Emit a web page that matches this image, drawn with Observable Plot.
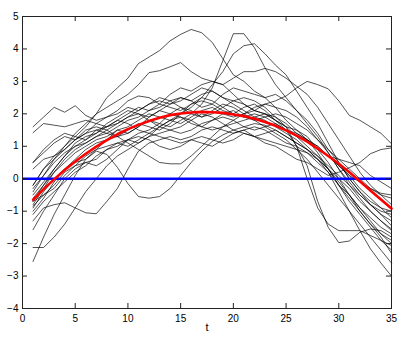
<!DOCTYPE html>
<html>
<head>
<meta charset="utf-8">
<script src="https://cdn.jsdelivr.net/npm/d3@7"></script>
<script src="https://cdn.jsdelivr.net/npm/@observablehq/plot@0.6"></script>
<style>
  html, body { margin: 0; padding: 0; background: #fff; }
</style>
</head>
<body>
<div id="chart"></div>
<script>
// time points
const T = [1,2,3,4,5,6,7,8,9,10,11,12,13,14,15,16,17,18,19,20,21,22,23,24,25,26,27,28,29,30,31,32,33,34,35];

// individual curves (black)
const s01 = [-0.2,0.3,0.7,1.0,1.3,1.6,2.0,2.5,2.8,3.1,3.55,3.75,3.95,4.25,4.45,4.6,4.5,4.2,3.7,3.2,3.0,2.7,2.5,2.2,1.8,1.5,1.2,0.8,0.3,-0.2,-0.5,-0.9,-1.3,-1.7,-2.0];
const s02 = [-0.8,-0.3,0.2,0.5,0.8,1.0,1.2,1.3,1.5,1.4,1.6,1.8,1.7,1.6,1.8,2.0,2.3,2.8,3.64,4.47,4.47,4.04,3.42,2.9,2.5,2.1,1.7,1.3,0.8,0.3,-0.2,-0.6,-1.0,-1.3,-1.55];
const s03 = [-1.0,-0.6,-0.1,0.3,0.6,0.9,1.1,1.2,1.3,1.5,1.7,1.6,1.5,1.7,2.0,2.2,2.5,2.9,3.3,3.85,4.1,4.16,3.85,3.5,3.2,2.7,2.2,1.7,1.1,0.5,0.0,-0.4,-0.8,-1.1,-1.45];
const s04 = [0.5,0.8,1.1,1.3,1.2,1.4,1.7,1.9,2.0,2.2,2.1,2.3,2.5,2.4,2.2,2.0,1.9,2.1,2.3,2.2,2.0,2.1,2.3,2.4,2.55,2.8,3.0,2.9,2.77,2.4,1.95,1.8,1.6,1.4,1.08];
const s05 = [-0.4,0.1,0.6,1.0,1.4,1.7,2.0,2.2,2.4,2.6,2.9,3.27,3.33,3.45,3.58,3.3,3.1,3.0,2.9,2.6,2.3,2.1,2.0,1.8,1.6,1.3,1.0,0.7,0.3,-0.2,-0.7,-1.1,-1.5,-1.9,-2.2];
const s06 = [-0.5,-0.1,0.3,0.7,1.0,1.2,1.5,1.6,1.8,2.0,2.2,2.1,2.3,2.6,2.8,2.7,2.9,3.0,2.9,3.1,3.3,3.3,3.4,3.3,3.1,2.85,2.6,2.2,1.7,1.2,0.7,0.2,-0.2,-0.5,-0.6];
const s07 = [1.6,1.9,2.2,2.05,2.25,1.95,1.8,1.9,2.1,2.4,2.55,2.5,2.3,2.2,2.1,2.3,2.5,2.4,2.2,2.0,1.9,2.0,1.9,1.7,1.5,1.4,1.2,1.0,0.7,0.4,0.1,-0.3,-0.6,-0.9,-1.2];
const s08 = [1.42,1.7,1.65,1.6,1.7,1.8,1.7,1.6,1.7,1.9,2.0,1.8,1.6,1.5,1.6,1.8,2.0,1.9,1.7,1.5,1.4,1.3,1.4,1.5,1.3,1.1,0.9,0.6,0.3,-0.1,-0.5,-0.9,-1.2,-1.5,-1.7];
const s09 = [-0.9,-0.4,0.0,0.3,0.5,0.6,0.85,0.75,0.35,-0.15,-0.55,-0.6,-0.55,-0.3,0.1,0.5,0.85,1.15,1.35,1.5,1.6,1.7,1.65,1.5,1.3,1.1,0.9,0.7,0.4,0.1,-0.2,-0.5,-0.8,-1.1,-1.3];
const s10 = [-1.3,-0.9,-0.8,-0.74,-0.9,-1.05,-1.08,-0.7,-0.3,0.3,0.85,1.1,1.2,1.3,1.2,1.3,1.5,1.6,1.5,1.4,1.5,1.6,1.5,1.3,1.1,1.0,0.8,0.6,0.3,0.0,-0.3,-0.7,-1.0,-1.3,-1.6];
const s11 = [-2.55,-1.8,-1.1,-0.5,0.1,0.6,0.9,1.2,1.5,1.6,1.8,2.0,1.9,1.8,2.0,2.3,2.4,2.3,2.1,2.0,2.2,2.3,2.1,1.8,1.6,1.5,1.3,0.9,0.5,0.0,-0.5,-1.0,-1.4,-1.7,-1.9];
const s12 = [-2.12,-2.12,-1.8,-1.4,-0.9,-0.4,0.0,0.4,0.7,0.9,1.1,1.3,1.4,1.5,1.4,1.5,1.7,1.8,1.9,1.8,1.6,1.5,1.6,1.7,1.5,1.3,1.2,1.0,0.7,0.4,0.1,-0.1,-0.3,-0.45,-0.5];
const s13 = [-1.57,-1.0,-0.5,0.0,0.3,0.5,0.6,0.9,1.1,1.2,1.4,1.5,1.7,2.0,2.2,2.1,1.9,2.0,2.2,2.4,2.5,2.4,2.2,1.9,1.6,1.0,0.0,-0.9,-1.4,-1.6,-1.6,-1.6,-1.75,-1.9,-2.06];
const s14 = [-0.6,-0.2,0.2,0.6,0.9,1.1,1.3,1.4,1.6,1.8,1.9,2.1,2.2,2.4,2.5,2.4,2.6,2.7,2.5,2.4,2.3,2.1,2.0,1.8,1.5,1.0,0.4,-0.7,-1.5,-1.97,-1.92,-1.65,-1.55,-1.6,-1.8];
const s15 = [-0.3,0.1,0.5,0.8,1.0,1.1,1.3,1.5,1.7,1.9,2.1,2.3,2.4,2.3,2.4,2.6,2.8,2.7,2.5,2.3,2.1,1.9,1.8,1.6,1.4,1.2,0.9,0.6,0.2,-0.4,-1.0,-1.6,-2.16,-2.6,-3.0];
const s16 = [-0.7,-0.5,-0.2,0.2,0.4,0.7,0.9,1.0,1.1,1.0,1.2,1.4,1.3,1.2,1.1,1.2,1.3,1.2,1.1,1.2,1.4,1.3,1.1,1.0,0.8,0.6,0.5,0.3,0.1,0.2,0.34,0.5,0.77,0.9,0.95];
const s17 = [0.3,0.6,0.7,0.9,1.2,1.5,1.6,1.5,1.3,1.4,1.6,1.9,2.1,2.0,1.9,1.7,1.6,1.8,2.0,2.1,1.9,1.8,1.9,2.0,1.9,1.7,1.5,1.2,0.9,0.6,0.3,0.0,-0.3,-0.5,-0.8];
const s18 = [-0.85,-0.5,-0.3,0.1,0.4,0.5,0.4,0.6,0.9,1.2,1.3,1.2,1.0,0.9,1.0,1.2,1.1,1.0,1.2,1.4,1.5,1.3,1.2,1.1,1.0,0.9,0.8,0.5,0.2,-0.2,-0.6,-1.0,-1.4,-1.8,-2.3];
const s19 = [-0.2,0.3,0.6,0.9,1.2,1.4,1.5,1.4,1.3,1.1,0.9,0.7,0.5,0.46,0.46,0.7,1.0,1.3,1.6,1.8,2.0,2.2,2.3,2.2,2.1,1.9,1.6,1.2,0.8,0.3,-0.1,-0.5,-0.8,-1.0,-1.1];
const s20 = [-0.7,-0.2,0.3,0.7,1.1,1.3,1.4,1.7,1.9,2.1,2.0,1.9,2.1,2.3,2.5,2.4,2.2,2.3,2.6,2.8,2.7,2.6,2.5,2.6,2.4,2.1,1.8,1.4,0.9,0.5,0.0,-0.4,-0.7,-0.9,-1.0];
const s21 = [-1.1,-0.7,-0.4,-0.1,0.2,0.4,0.7,0.9,1.0,1.2,1.1,1.3,1.6,1.8,1.7,1.9,2.1,2.2,2.0,1.9,2.0,1.8,1.6,1.4,1.2,0.9,0.6,0.2,-0.2,-0.6,-1.0,-1.4,-1.8,-2.2,-2.6];
const s22 = [0.5,0.9,1.2,1.4,1.3,1.2,1.4,1.6,1.8,1.7,1.5,1.4,1.6,1.8,1.9,1.8,1.6,1.5,1.6,1.7,1.8,1.9,2.0,1.9,1.7,1.4,1.2,0.9,0.7,0.6,0.5,0.4,0.1,-0.1,-0.3];

// mean curve (red)
const meanCurve = [-0.65,-0.32,-0.02,0.27,0.53,0.77,0.99,1.19,1.37,1.53,1.66,1.78,1.88,1.96,2.01,2.04,2.06,2.05,2.03,1.98,1.93,1.85,1.75,1.63,1.49,1.33,1.14,0.93,0.70,0.46,0.20,-0.08,-0.36,-0.64,-0.92];

// reference line (blue)
const zeroLine = [0];

// tick labels
const xTicks = [0,5,10,15,20,25,30,35];
const yTicks = [-4,-3,-2,-1,0,1,2,3,4,5];
const xLabel = "t";

const series = [s01,s02,s03,s04,s05,s06,s07,s08,s09,s10,s11,s12,s13,s14,s15,s16,s17,s18,s19,s20,s21,s22];
const rows = series.flatMap((vals, i) => vals.map((v, j) => ({t: T[j], v, id: i})));
const meanRows = meanCurve.map((v, j) => ({t: T[j], v}));

const W = 415, H = 343;
const mL = 22, mR = 24, mT = 16, mB = 35;
const fw = W - mL - mR, fh = H - mT - mB, tk = 5;

const chart = Plot.plot({
  width: W, height: H,
  marginLeft: mL, marginRight: mR, marginTop: mT, marginBottom: mB,
  x: {domain: [0, 35]},
  y: {domain: [-4, 5]},
  style: {fontFamily: "'Liberation Sans', Arial, Helvetica, sans-serif", fontSize: "10px", background: "#fff", color: "#000"},
  marks: [
    Plot.line(rows, {x: "t", y: "v", z: "id", stroke: "#000", strokeWidth: 0.75, strokeOpacity: 0.9}),
    Plot.ruleY(zeroLine, {stroke: "#0000ff", strokeWidth: 2.6}),
    Plot.line(meanRows, {x: "t", y: "v", stroke: "#ff0000", strokeWidth: 2.6}),
    Plot.frame({stroke: "#222", strokeWidth: 1}),
    Plot.tickX(xTicks, {x: d => d, insetTop: fh - tk, stroke: "#222"}),
    Plot.tickX(xTicks, {x: d => d, insetBottom: fh - tk, stroke: "#222"}),
    Plot.tickY(yTicks, {y: d => d, insetRight: fw - tk, stroke: "#222"}),
    Plot.tickY(yTicks, {y: d => d, insetLeft: fw - tk, stroke: "#222"}),
    Plot.axisX(xTicks, {tickSize: 0, tickPadding: 6, label: null}),
    Plot.axisY(yTicks, {tickSize: 0, tickPadding: 4, label: null}),
    Plot.text([xLabel], {frameAnchor: "bottom", dy: 22, text: d => d, fontSize: 11})
  ]
});
document.getElementById("chart").appendChild(chart);
</script>
</body>
</html>
